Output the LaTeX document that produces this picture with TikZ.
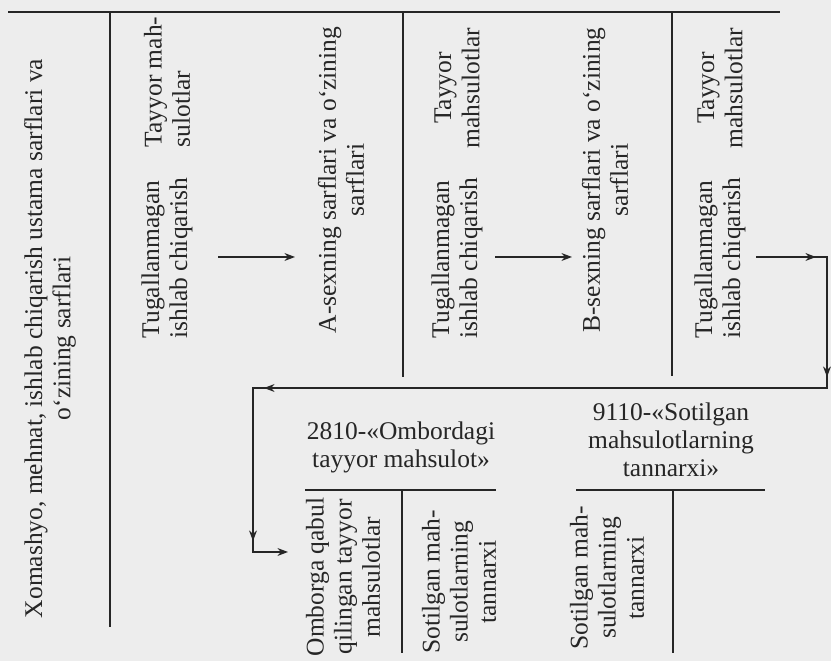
\documentclass[tikz,border=0pt]{standalone}
\usepackage{fontspec}
\setmainfont{Liberation Serif}
\usetikzlibrary{arrows.meta, decorations.markings, calc}

\begin{document}
\begin{tikzpicture}
    % --- Style Definitions ---
    \tikzset{
        % Page background of the scan
        page style/.style={fill=black!7},
        % T-account rules
        account line/.style={
            draw=black!85,
            line width=0.9pt
        },
        % Rotated entries inside the accounts
        entry text/.style={
            rotate=90,
            font=\fontsize{14.5}{16}\selectfont,
            text=black!85,
            inner sep=1pt
        },
        % Account titles
        title text/.style={
            font=\fontsize{14.5}{16}\selectfont,
            text=black!85,
            align=center
        },
        % Arrow styling
        flow arrow/.style={
            -{Stealth[length=6pt, width=4.5pt]},
            line width=0.7pt,
            color=black!85
        },
        % Arrow tip set just before a corner
        corner arrow/.style={
            line width=0.7pt,
            line cap=rect,
            color=black!85,
            postaction={decorate},
            decoration={markings,
                mark=at position -0.22cm with {\arrow{Stealth[length=6pt, width=4.5pt]}}}
        }
    }

    \fill[page style] (0,0) rectangle (16.62,13.22);
    \useasboundingbox (0,0) rectangle (16.62,13.22);

    % ==========================================
    % TOP ROW: production accounts
    % ==========================================

    % 1. Account rules
    \draw[account line] (0.16,12.98) -- (15.60,12.98);
    \draw[account line] (2.20,12.98) -- (2.20,0.68);
    \draw[account line] (8.06,12.98) -- (8.06,5.68);
    \draw[account line] (13.44,12.98) -- (13.44,5.70);

    % 2. Entries
    \node[entry text, align=center] (debit_raw) at (1.00,6.45)
        {Xomashyo, mehnat, ishlab chiqarish ustama sarflari va\\o‘zining sarflari};

    \node[entry text, align=left] (wip_0) at (3.34,8.06) {Tugallanmagan\\ishlab chiqarish};
    \node[entry text, align=left] (goods_0) at (3.34,11.58) {Tayyor mah-\\sulotlar};
    \node[entry text, align=center] (shop_a) at (6.82,9.62) {A-sexning sarflari va o‘zining\\sarflari};

    \node[entry text, align=left] (wip_1) at (9.14,8.06) {Tugallanmagan\\ishlab chiqarish};
    \node[entry text, align=center] (goods_1) at (9.14,11.46) {Tayyor\\mahsulotlar};
    \node[entry text, align=center] (shop_b) at (12.10,9.62) {B-sexning sarflari va o‘zining\\sarflari};

    \node[entry text, align=left] (wip_2) at (14.40,8.06) {Tugallanmagan\\ishlab chiqarish};
    \node[entry text, align=center] (goods_2) at (14.40,11.46) {Tayyor\\mahsulotlar};

    % 3. Transfers between accounts
    \coordinate (out_0) at (4.36,8.08);
    \coordinate (in_a) at (5.90,8.08);
    \coordinate (out_1) at (9.90,8.08);
    \coordinate (in_b) at (11.44,8.08);
    \coordinate (out_2) at (15.14,8.08);

    \draw[flow arrow] (out_0) -- (in_a);
    \draw[flow arrow] (out_1) -- (in_b);

    % ==========================================
    % BOTTOM ROW: 2810 and 9110
    % ==========================================

    % 1. Titles
    \node[title text] (title_2810) at (8.02,4.28) {2810-«Ombordagi\\tayyor mahsulot»};
    \node[title text] (title_9110) at (13.42,4.42) {9110-«Sotilgan\\mahsulotlarning\\tannarxi»};

    % 2. Account rules
    \draw[account line] (6.10,3.42) -- (9.92,3.42);
    \draw[account line] (8.04,3.42) -- (8.04,0.16);
    \draw[account line] (11.52,3.42) -- (15.30,3.42);
    \draw[account line] (13.46,3.42) -- (13.46,0.16);

    % 3. Entries
    \node[entry text, align=center] (recv_2810) at (6.86,1.68) {Omborga qabul\\qilingan tayyor\\mahsulotlar};
    \node[entry text, align=center] (sold_2810) at (9.18,1.58) {Sotilgan mah-\\sulotlarning\\tannarxi};
    \node[entry text, align=center] (sold_9110) at (12.14,1.66) {Sotilgan mah-\\sulotlarning\\tannarxi};

    % 4. Connector from the last account down to 2810
    \coordinate (turn_1) at (16.54,8.08);
    \coordinate (turn_2) at (16.54,5.46);
    \coordinate (turn_3) at (5.06,5.46);
    \coordinate (turn_4) at (5.06,2.18);
    \coordinate (in_2810) at (5.76,2.18);

    \draw[corner arrow] (out_2) -- (turn_1);
    \draw[corner arrow] (turn_1) -- (turn_2);
    \draw[corner arrow] (turn_2) -- (turn_3);
    \draw[corner arrow] (turn_3) -- (turn_4);
    \draw[flow arrow] (turn_4) -- (in_2810);

\end{tikzpicture}
\end{document}
